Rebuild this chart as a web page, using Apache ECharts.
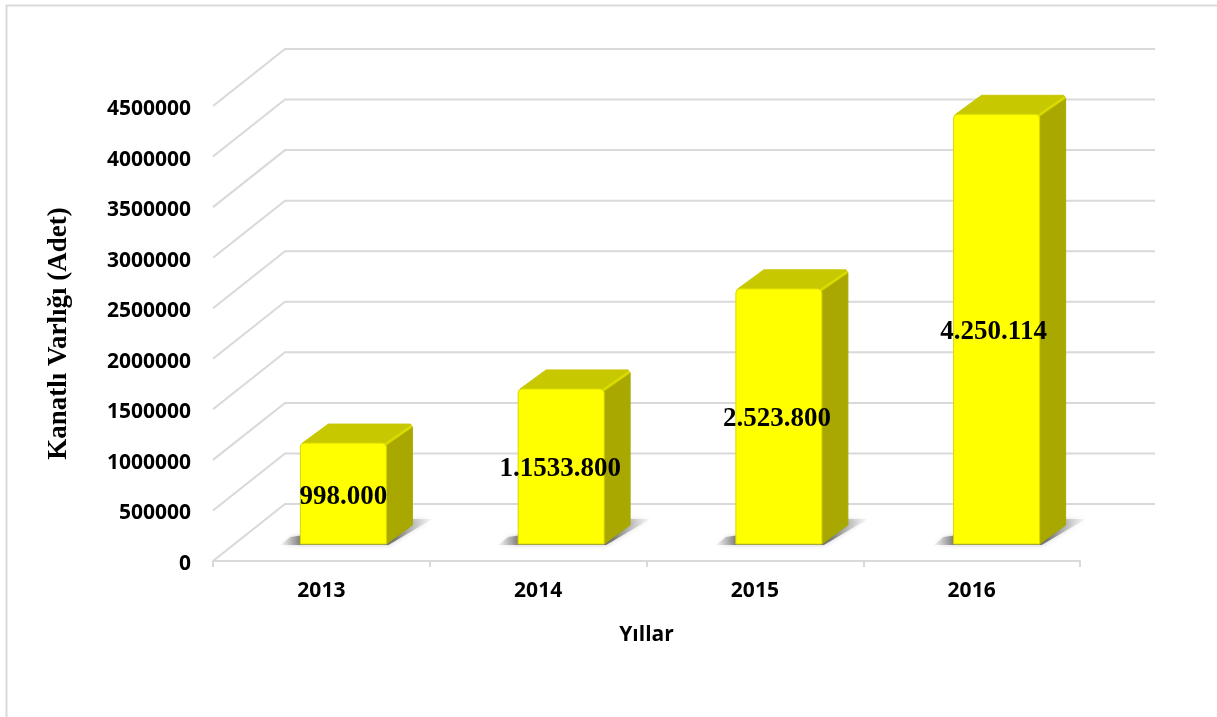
<!DOCTYPE html>
<html>
<head>
<meta charset="utf-8">
<style>
  html, body { margin: 0; padding: 0; background: #fff; }
  #chart { width: 1217px; height: 717px; }
</style>
<script src="https://cdn.jsdelivr.net/npm/echarts@6/dist/echarts.min.js"></script>
</head>
<body>
<div id="chart"></div>
<script>
var categories = ['2013', '2014', '2015', '2016'];
var values = [998000, 1533800, 2523800, 4250114];
var barLabels = ['998.000', '1.1533.800', '2.523.800', '4.250.114'];
var yTicks = [0, 500000, 1000000, 1500000, 2000000, 2500000, 3000000, 3500000, 4000000, 4500000];

var gridColor = '#d9d9d9';
var sansFont = '"Open Sans", sans-serif';
var serifFont = '"Liberation Serif", serif';

// floor depth of the fake 3d box, and the depth of one bar
var wallDx = 72, wallDy = 57;
var barShiftX = 22, barShiftY = 17;
var barDx = 26, barDy = 19;
var barWidth = 86;

function renderWall(params, api) {
  var p = api.coord([0, api.value(1)]);
  var left = params.coordSys.x;
  var right = left + params.coordSys.width;
  return {
    type: 'polyline',
    shape: { points: [[left, p[1]], [left + wallDx, p[1] - wallDy], [right + wallDx + 3, p[1] - wallDy]] },
    style: { fill: null, stroke: gridColor, lineWidth: 2 }
  };
}

function renderBar(params, api) {
  var i = api.value(0);
  var top = api.coord([i, api.value(1)]);
  var base = api.coord([i, 0]);
  // bars sit further back on the floor, so they spread a little wider than the front axis
  var x0 = top[0] + barShiftX + i - barWidth / 2;
  var x1 = x0 + barWidth;
  var yt = top[1] - barShiftY;
  var yb = base[1] - barShiftY;
  return {
    type: 'group',
    children: [
      {
        type: 'polygon',
        shape: { points: [[x0 - 20, yb + 1], [x0 - 10, yb - 7], [x0 + 4, yb - 9], [x1 + barDx, yb - barDy - 6], [x1 + barDx + 20, yb - barDy - 6], [x1 + 2, yb + 1]] },
        style: {
          fill: new echarts.graphic.LinearGradient(0, 0, 1, 0, [
            { offset: 0, color: 'rgba(170,170,170,0.1)' },
            { offset: 0.14, color: 'rgba(105,105,105,0.9)' },
            { offset: 0.75, color: 'rgba(105,105,105,0.9)' },
            { offset: 1, color: 'rgba(190,190,190,0.1)' }
          ]),
          shadowBlur: 5,
          shadowColor: 'rgba(140,140,140,0.5)'
        }
      },
      {
        type: 'polygon',
        shape: { points: [[x1, yt + 2], [x1 + barDx, yt - barDy + 3], [x1 + barDx, yb - barDy], [x1, yb]] },
        style: { fill: '#a8a800', stroke: '#a8a800', lineWidth: 1 }
      },
      {
        type: 'polygon',
        shape: { points: [[x0 + 2, yt], [x0 + barDx + 2, yt - barDy], [x1 + barDx - 2, yt - barDy], [x1 + barDx, yt - barDy + 3], [x1, yt + 2]] },
        style: { fill: '#c8c800', stroke: '#c8c800', lineWidth: 1 }
      },
      {
        type: 'polyline',
        shape: { points: [[x1 - 1, yt + 1], [x1 + barDx - 1, yt - barDy + 2]] },
        style: { fill: null, stroke: '#dcdc00', lineWidth: 2 }
      },
      {
        type: 'rect',
        shape: { x: x0, y: yt, width: barWidth, height: yb - yt, r: [4, 4, 0, 0] },
        style: { fill: '#ffff00', stroke: '#d8d800', lineWidth: 1 }
      },
      {
        type: 'text',
        style: {
          x: (x0 + x1) / 2 - i,
          y: (yt + yb) / 2 + 3,
          text: barLabels[params.dataIndex],
          fill: '#000',
          font: 'bold 27px ' + serifFont,
          align: 'center',
          verticalAlign: 'middle'
        }
      }
    ]
  };
}

var chart = echarts.init(document.getElementById('chart'), null, { renderer: 'canvas' });
chart.setOption({
  animation: false,
  backgroundColor: '#fff',
  graphic: [{
    type: 'polyline',
    shape: { points: [[6.5, 717], [6.5, 5.5], [1217, 5.5]] },
    style: { fill: null, stroke: gridColor, lineWidth: 2 }
  }],
  grid: { left: 213, right: 137, top: 106, bottom: 156 },
  xAxis: {
    type: 'category',
    data: categories,
    boundaryGap: true,
    name: 'Yıllar',
    nameLocation: 'middle',
    nameGap: 64,
    nameTextStyle: { color: '#000', fontFamily: sansFont, fontWeight: 'bold', fontSize: 21 },
    axisLine: { lineStyle: { color: gridColor, width: 2 } },
    axisTick: { show: true, length: 6, lineStyle: { color: gridColor, width: 2 } },
    axisLabel: { color: '#000', fontFamily: sansFont, fontWeight: 'bold', fontSize: 21, margin: 20 }
  },
  yAxis: {
    type: 'value',
    min: 0,
    max: 4500000,
    interval: 500000,
    name: 'Kanatlı Varlığı (Adet)',
    nameLocation: 'middle',
    nameRotate: 90,
    nameGap: 140,
    nameTextStyle: { color: '#000', fontFamily: serifFont, fontWeight: 'bold', fontSize: 27 },
    axisLine: { show: false },
    axisTick: { show: false },
    splitLine: { show: false },
    axisLabel: {
      margin: 22,
      formatter: function(v) { return '{v|' + v + '}'; },
      rich: {
        v: { color: '#000', fontFamily: sansFont, fontWeight: 'bold', fontSize: 21, padding: [6, 0, 0, 0] }
      }
    }
  },
  series: [
    {
      type: 'custom',
      name: 'duvar',
      renderItem: renderWall,
      silent: true,
      z: 1,
      data: yTicks.map(function(t) { return [0, t]; })
    },
    {
      type: 'custom',
      name: 'Kanatlı Varlığı',
      renderItem: renderBar,
      z: 2,
      data: values.map(function(v, i) { return [i, v]; })
    }
  ]
});
window.addEventListener('resize', function() { chart.resize(); });
</script>
</body>
</html>
